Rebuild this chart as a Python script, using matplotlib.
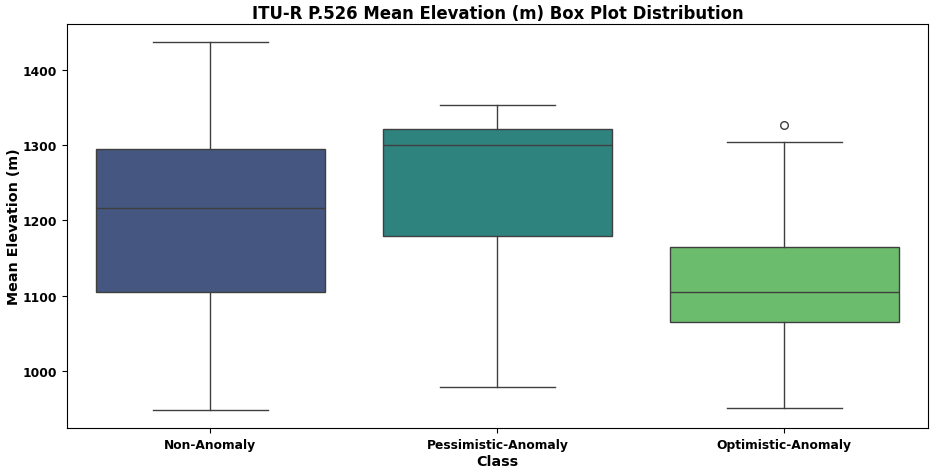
import matplotlib
matplotlib.use("Agg")
import matplotlib.pyplot as plt
import seaborn as sns

categories = ["Non-Anomaly", "Pessimistic-Anomaly", "Optimistic-Anomaly"]
whislo = [948, 979, 951]
q1 = [1105, 1179, 1065]
med = [1217, 1300, 1105]
q3 = [1295, 1321, 1165]
whishi = [1437, 1354, 1304]
fliers = [[], [], [1327]]

colors = sns.color_palette("viridis", 3)
colors = [sns.desaturate(c, 0.75) for c in colors]

stats = []
for i, c in enumerate(categories):
    stats.append(dict(label=c, whislo=whislo[i], q1=q1[i], med=med[i],
                      q3=q3[i], whishi=whishi[i], fliers=fliers[i]))

fig, ax = plt.subplots(figsize=(9.41, 4.77), dpi=100)
line_c = "#3f3f3f"
bp = ax.bxp(stats, positions=range(len(categories)), widths=0.8, patch_artist=True,
            boxprops=dict(edgecolor=line_c, linewidth=1.0),
            medianprops=dict(color=line_c, linewidth=1.0),
            whiskerprops=dict(color=line_c, linewidth=1.0),
            capprops=dict(color=line_c, linewidth=1.0),
            flierprops=dict(marker="o", markerfacecolor="none", markeredgecolor=line_c,
                            markersize=5.5, linewidth=0))
for patch, col in zip(bp["boxes"], colors):
    patch.set_facecolor(col)

ax.set_xlim(-0.5, 2.5)
ax.set_xticks(range(len(categories)))
ax.set_xticklabels(categories, fontsize=8.8, fontweight="bold")
for lab in ax.get_yticklabels():
    lab.set_fontweight("bold")
ax.tick_params(axis="y", labelsize=8.8)
ax.set_title("ITU-R P.526 Mean Elevation (m) Box Plot Distribution", fontsize=11.9, fontweight="bold", pad=4)
ax.set_xlabel("Class", fontsize=10.3, fontweight="bold", labelpad=2)
ax.set_ylabel("Mean Elevation (m)", fontsize=10.3, fontweight="bold", labelpad=1)

fig.subplots_adjust(left=0.071, right=0.986, top=0.948, bottom=0.1)
fig.savefig("out.png", dpi=100)
